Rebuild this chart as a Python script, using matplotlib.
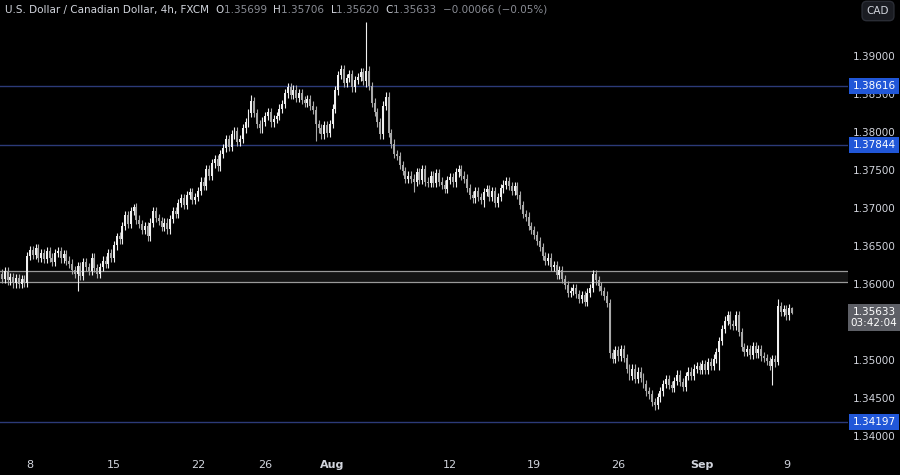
import matplotlib.pyplot as plt
from matplotlib.patches import Rectangle
from matplotlib.transforms import blended_transform_factory

BG = "#000000"
TXT = "#d1d4dc"

# 4h closes, index 0 = Mon Jul 8 00:00 (first 11 candles are Jul 5)
CLOSES = [
    1.3615, 1.3608, 1.3618, 1.3606, 1.3610, 1.3602, 1.3609, 1.3601, 1.3608, 1.3603, 1.3638,
    # Jul 8
    1.3646, 1.3640, 1.3648, 1.3636, 1.3642, 1.3634, 1.3645, 1.3636, 1.3630, 1.3642, 1.3645, 1.3635, 1.3641, 1.3632, 1.3628,
    1.3620, 1.3614, 1.3625, 1.3612, 1.3630, 1.3624, 1.3618, 1.3636, 1.3622, 1.3615, 1.3624, 1.3632, 1.3628, 1.3642, 1.3636,
    # Jul 15
    1.3652, 1.3664, 1.3660, 1.3678, 1.3692, 1.3680, 1.3697, 1.3702, 1.3686, 1.3680, 1.3672, 1.3678, 1.3664, 1.3682, 1.3697,
    1.3688, 1.3684, 1.3676, 1.3682, 1.3673, 1.3687, 1.3697, 1.3694, 1.3708, 1.3714, 1.3705, 1.3718, 1.3722, 1.3712, 1.3716,
    # Jul 22
    1.3724, 1.3736, 1.3730, 1.3752, 1.3744, 1.3760, 1.3766, 1.3756, 1.3772, 1.3780, 1.3792, 1.3782, 1.3798, 1.3802, 1.3788,
    1.3792, 1.3806, 1.3814, 1.3826, 1.3842, 1.3826, 1.3812, 1.3806, 1.3815, 1.3822, 1.3828, 1.3814, 1.3818, 1.3822, 1.3832,
    # Jul 29
    1.3838, 1.3852, 1.3860, 1.3850, 1.3857, 1.3846, 1.3853, 1.3843, 1.3840, 1.3845, 1.3836, 1.3830, 1.3812, 1.3806, 1.3798,
    1.3810, 1.3800, 1.3812, 1.3832, 1.3856, 1.3876, 1.3884, 1.3866, 1.3872, 1.3878, 1.3860, 1.3870, 1.3874, 1.3880, 1.3868,
    # Aug 5
    1.3882, 1.3862, 1.3840, 1.3828, 1.3814, 1.3798, 1.3836, 1.3848, 1.3800, 1.3786, 1.3772, 1.3770, 1.3758, 1.3750, 1.3740,
    1.3744, 1.3740, 1.3736, 1.3748, 1.3738, 1.3752, 1.3736, 1.3734, 1.3744, 1.3734, 1.3747, 1.3736, 1.3732, 1.3726, 1.3738,
    # Aug 12
    1.3742, 1.3735, 1.3748, 1.3752, 1.3744, 1.3740, 1.3728, 1.3718, 1.3714, 1.3724, 1.3716, 1.3712, 1.3722, 1.3726, 1.3716,
    1.3724, 1.3708, 1.3716, 1.3727, 1.3732, 1.3737, 1.3730, 1.3724, 1.3730, 1.3718, 1.3705, 1.3693, 1.3690, 1.3678, 1.3672,
    # Aug 19
    1.3666, 1.3658, 1.3650, 1.3638, 1.3632, 1.3636, 1.3624, 1.3626, 1.3613, 1.3620, 1.3608, 1.3600, 1.3590, 1.3592, 1.3596,
    1.3588, 1.3582, 1.3587, 1.3578, 1.3590, 1.3596, 1.3614, 1.3606, 1.3598, 1.3592, 1.3586, 1.3576, 1.3510, 1.3503, 1.3514,
    # Aug 26
    1.3506, 1.3516, 1.3504, 1.3490, 1.3480, 1.3490, 1.3476, 1.3486, 1.3478, 1.3470, 1.3460, 1.3456, 1.3446, 1.3442, 1.3452,
    1.3460, 1.3470, 1.3476, 1.3468, 1.3465, 1.3474, 1.3482, 1.3472, 1.3466, 1.3480, 1.3486, 1.3480, 1.3490, 1.3493, 1.3488,
    # Sep 2
    1.3496, 1.3488, 1.3499, 1.3494, 1.3503, 1.3512, 1.3526, 1.3542, 1.3553, 1.3560, 1.3548, 1.3546, 1.3560, 1.3538, 1.3518,
    1.3512, 1.3516, 1.3508, 1.3520, 1.3510, 1.3516, 1.3506, 1.3504, 1.3500, 1.3494, 1.3502, 1.3498, 1.3572, 1.3565, 1.3568,
    # Sep 9
    1.3560, 1.35699, 1.35633,
]
START = -11
FIRST_OPEN = 1.3618
WICK = 0.00055
# notable wick extremes: index -> (high, low)
EXTREMES = {
    17: (None, 1.3592), 31: (1.3668, None), 37: (1.3706, None), 79: (1.3850, None),
    102: (None, 1.3790), 120: (1.3946, 1.3860), 137: (None, 1.3722), 162: (None, 1.3702),
    202: (1.3620, None), 223: (None, 1.3436), 246: (None, 1.3488), 265: (None, 1.3468),
    267: (1.3582, 1.3495), 272: (1.35706, 1.35620),
}

LEVELS = [1.38616, 1.37844, 1.34197]
ZONE = (1.36035, 1.36185)
YTICKS = [1.34, 1.345, 1.35, 1.36, 1.365, 1.37, 1.375, 1.38, 1.385, 1.39]
XTICK_POS = [0, 30, 60, 84, 108, 150, 180, 210, 240, 270]
XTICK_LAB = ["8", "15", "22", "26", "Aug", "12", "19", "26", "Sep", "9"]

fig = plt.figure(figsize=(9, 4.75), dpi=100, facecolor=BG)
ax = fig.add_axes([0, 25 / 475, 848 / 900, 450 / 475], facecolor=BG)
ax.set_xlim(-10.7, 292)
ax.set_ylim(1.33828, 1.39750)

ax.add_patch(Rectangle((-20, ZONE[0]), 400, ZONE[1] - ZONE[0], facecolor="#141414",
                       edgecolor="none", zorder=1))
for y in ZONE:
    ax.axhline(y, color="#9a9a9a", lw=0.9, zorder=2)
for y in LEVELS:
    ax.axhline(y, color="#2c3a78", lw=1.0, zorder=2)

prev = FIRST_OPEN
for k, c in enumerate(CLOSES):
    i = START + k
    o = prev
    hi = max(o, c) + WICK
    lo = min(o, c) - WICK
    if i in EXTREMES:
        h2, l2 = EXTREMES[i]
        hi = h2 if h2 is not None else hi
        lo = l2 if l2 is not None else lo
    col = "#f0f0f0" if c >= o else "#a9a9a9"
    ax.vlines(i, lo, hi, color=col, lw=0.8, zorder=3)
    ax.add_patch(Rectangle((i - 0.35, min(o, c)), 0.7, max(abs(c - o), 0.00004),
                           facecolor=col, edgecolor="none", zorder=4))
    prev = c

ax.set_xticks([])
ax.set_yticks([])
for s in ax.spines.values():
    s.set_visible(False)

# date labels
tb = blended_transform_factory(ax.transData, fig.transFigure)
for p, lab in zip(XTICK_POS, XTICK_LAB):
    bold = lab in ("Aug", "Sep")
    fig.text(p, 10 / 475, lab, transform=tb, color=TXT, fontsize=8, ha="center",
             va="center", fontweight="bold" if bold else "normal")

# price axis
pt = blended_transform_factory(fig.transFigure, ax.transData)
for y in YTICKS:
    ax.text(874 / 900, y, f"{y:.5f}", transform=pt, color=TXT, fontsize=7.5,
            ha="center", va="center", clip_on=False)
for y in LEVELS:
    ax.text(874 / 900, y, f"{y:.5f}", transform=pt, color="white", fontsize=7.5,
            ha="center", va="center", clip_on=False, zorder=10,
            bbox=dict(boxstyle="square,pad=0.3", fc="#2157d8", ec="none"))
last = CLOSES[-1]
ax.text(874 / 900, last - 0.0006, f"{last:.5f}\n03:42:04", transform=pt, color="white",
        fontsize=7.5, ha="center", va="center", clip_on=False, zorder=10, linespacing=1.1,
        bbox=dict(boxstyle="square,pad=0.3", fc="#5d5f66", ec="none"))

fig.text(878 / 900, 1 - 11 / 475, "CAD", color=TXT, fontsize=7.5, ha="center", va="center",
         bbox=dict(boxstyle="round,pad=0.45", fc="#1a1c22", ec="#2a2d35"))

# header
hx, hy = 5 / 900, 1 - 10 / 475
parts = [("U.S. Dollar / Canadian Dollar, 4h, FXCM  ", TXT), ("O", TXT), ("1.35699  ", "#8a8d95"),
         ("H", TXT), ("1.35706  ", "#8a8d95"), ("L", TXT), ("1.35620  ", "#8a8d95"),
         ("C", TXT), ("1.35633  ", "#8a8d95"), ("−0.00066 (−0.05%)", "#8a8d95")]
fig.canvas.draw()
r = fig.canvas.get_renderer()
x = hx
for s, col in parts:
    t = fig.text(x, hy, s, color=col, fontsize=7.5, ha="left", va="center")
    bb = t.get_window_extent(r)
    x += bb.width / fig.bbox.width

fig.savefig("out.png", dpi=100, facecolor=BG)
